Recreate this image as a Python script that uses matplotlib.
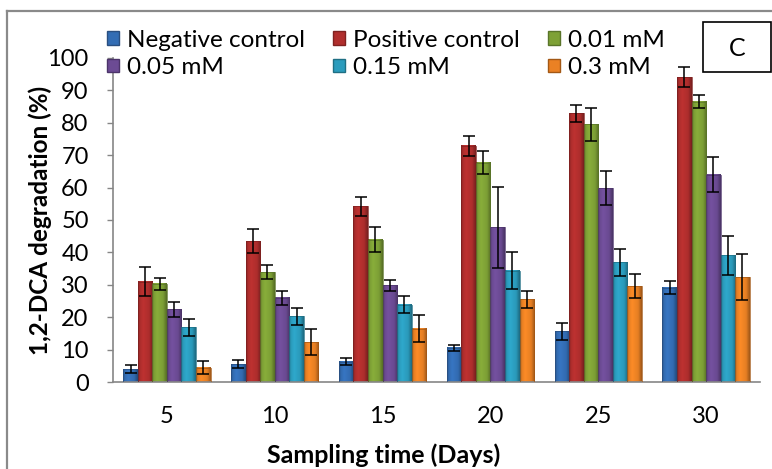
import numpy as np
import matplotlib
matplotlib.use('Agg')
import matplotlib.pyplot as plt
from matplotlib.colors import to_rgb
from matplotlib.lines import Line2D
from matplotlib.patches import Rectangle, Patch

plt.rcParams['font.family'] = ['Lato', 'DejaVu Sans']

days = ['5', '10', '15', '20', '25', '30']
series = ['Negative control', 'Positive control', '0.01 mM', '0.05 mM', '0.15 mM', '0.3 mM']

neg = [4.0, 5.5, 6.3, 10.5, 15.6, 29.1]
neg_err = [1.2, 1.2, 1.0, 1.0, 2.7, 2.0]
pos = [31.0, 43.5, 54.2, 72.9, 82.9, 94.1]
pos_err = [4.4, 3.7, 3.0, 3.0, 2.7, 3.1]
c001 = [30.3, 33.9, 43.9, 67.7, 79.5, 86.5]
c001_err = [1.9, 2.2, 3.9, 3.6, 5.0, 2.0]
c005 = [22.4, 26.0, 29.8, 47.7, 59.8, 64.0]
c005_err = [2.3, 2.2, 1.6, 12.6, 5.2, 5.3]
c015 = [16.9, 20.3, 23.9, 34.3, 37.0, 39.1]
c015_err = [2.6, 2.6, 2.5, 5.7, 4.2, 6.0]
c03 = [4.4, 12.3, 16.5, 25.5, 29.6, 32.4]
c03_err = [2.0, 4.0, 4.3, 2.6, 3.8, 7.0]

values = [neg, pos, c001, c005, c015, c03]
errors = [neg_err, pos_err, c001_err, c005_err, c015_err, c03_err]
colors = ['#336db4', '#b02e2d', '#7ea136', '#6c4b94', '#2b9cbd', '#ea8124']
edges = ['#2a4f80', '#7f2120', '#5a752a', '#4c346a', '#1f6f84', '#a35815']


def shade(base):
    # horizontal shading: dark edges, lighter left-centre
    t = np.linspace(0, 1, 40)
    prof = np.interp(t, [0, 0.12, 0.35, 0.75, 1], [0.72, 0.98, 1.08, 0.98, 0.68])
    rgb = np.clip(np.array(to_rgb(base))[None, :] * prof[:, None], 0, 1)
    return rgb[None, :, :]


fig = plt.figure(figsize=(7.72, 4.69), dpi=100)
ax = fig.add_axes([113 / 772, 87 / 469, 647 / 772, 324 / 469])

x = np.arange(len(days))
w = 0.135
for i in range(len(series)):
    pos_x = x + (i - 2.5) * w
    bars = ax.bar(pos_x, values[i], width=w, facecolor='none', edgecolor=edges[i],
                  linewidth=0.5, zorder=3)
    img = shade(colors[i])
    for b in bars:
        x0, h = b.get_x(), b.get_height()
        ax.imshow(img, extent=[x0, x0 + w, 0, h], aspect='auto',
                  interpolation='bilinear', zorder=2)
    ax.errorbar(pos_x, values[i], yerr=errors[i], fmt='none', ecolor='black',
                elinewidth=1.1, capsize=4.5, capthick=1.1, zorder=4)

ax.set_xlim(-0.5, len(days) - 0.5)
ax.set_ylim(0, 100)
ax.set_yticks(range(0, 101, 10))
ax.set_xticks(x)
ax.set_xticklabels(days)
ax.tick_params(axis='y', labelsize=17, length=4.5, color='#868686', width=1, pad=13)
ax.tick_params(axis='x', labelsize=17, length=0, pad=17)
for s in ['top', 'right']:
    ax.spines[s].set_visible(False)
for s in ['left', 'bottom']:
    ax.spines[s].set_color('#868686')
    ax.spines[s].set_linewidth(1.2)

ax.set_ylabel('1,2-DCA degradation (%)', fontsize=17.5, fontweight='bold', labelpad=-3)
ax.set_xlabel('Sampling time (Days)', fontsize=18, fontweight='bold')
ax.xaxis.set_label_coords((384 - 113) / 647, -0.19)

# legend in row order: matplotlib fills columns first
handles = [Patch(facecolor=colors[i], edgecolor=edges[i]) for i in range(6)]
order = [0, 3, 1, 4, 2, 5]
fig.legend([handles[i] for i in order], [series[i] for i in order],
           ncol=3, loc='upper left', bbox_to_anchor=(107 / 772, 1 - 30 / 469),
           frameon=False, fontsize=17.5, handlelength=0.5, handleheight=0.5,
           handletextpad=0.33, columnspacing=1.15, labelspacing=0.25,
           borderpad=0, borderaxespad=0)

# outer frame and panel label box
fig.add_artist(Line2D([7 / 772, 7 / 772], [0, 1 - 11 / 469], transform=fig.transFigure,
                      color='#8a8a8a', linewidth=1.6))
fig.add_artist(Line2D([7 / 772, 1], [1 - 11 / 469, 1 - 11 / 469], transform=fig.transFigure,
                      color='#8a8a8a', linewidth=1.6))
fig.patches.append(Rectangle((703 / 772, 1 - 72 / 469), 68 / 772, 50 / 469,
                             transform=fig.transFigure, fill=True, facecolor='white',
                             edgecolor='black', linewidth=1.2))
fig.text(737 / 772, 1 - 48 / 469, 'C', fontsize=18, ha='center', va='center')

fig.savefig('out.png', dpi=100)
